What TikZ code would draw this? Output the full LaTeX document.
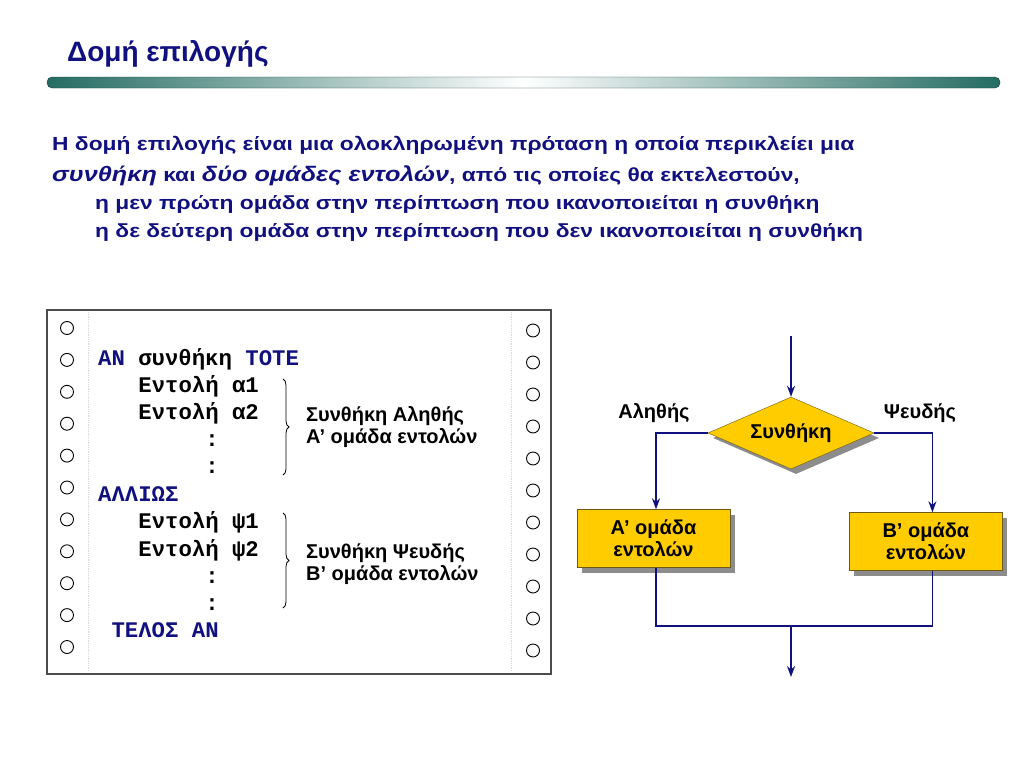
\documentclass[tikz,border=0pt]{standalone}
\usepackage{fontspec}
\setmainfont{Liberation Sans}
\setmonofont{Liberation Mono}
\newfontfamily\widesans[FakeStretch=1.2]{Liberation Sans}
\usetikzlibrary{positioning, arrows.meta, shapes.geometric, decorations.pathreplacing, shadows}

\definecolor{navy}{RGB}{16,16,128}
\definecolor{barteal}{RGB}{36,108,98}
\definecolor{gold}{RGB}{255,204,0}
\definecolor{goldline}{RGB}{110,90,20}

\begin{document}
\begin{tikzpicture}[
		x=1pt, y=-1pt,
		>={Stealth[length=11pt, width=8pt]},
		% Styles for the texts
		heading/.style={anchor=base west, inner sep=0pt, text=navy, font=\bfseries\fontsize{28}{32}\selectfont},
		bodytext/.style={anchor=base west, inner sep=0pt, text=navy, font=\widesans\bfseries\fontsize{19}{22}\selectfont},
		codeline/.style={anchor=base west, inner sep=0pt, font=\ttfamily\bfseries\fontsize{22.3}{26}\selectfont},
		bracelabel/.style={anchor=west, inner sep=0pt, align=left, font=\bfseries\fontsize{20}{22.5}\selectfont},
		% Styles for the listing frame
		panel/.style={draw=black!70, line width=1.2pt},
		margin/.style={draw=black!15, densely dotted, line width=0.8pt},
		hole/.style={draw=black, line width=0.9pt},
		groupbrace/.style={decorate, decoration={brace, amplitude=6pt}, line width=0.8pt},
		% Styles for the flowchart
		decision/.style={
			diamond, aspect=2.3, draw=goldline, fill=gold, inner sep=0pt,
			minimum width=166pt, minimum height=72pt, font=\bfseries\fontsize{20}{22}\selectfont,
			drop shadow={shadow xshift=5pt, shadow yshift=-5pt, fill=black!45, opacity=1}
		},
		process/.style={
			rectangle, draw=goldline, fill=gold, align=center,
			minimum width=153pt, minimum height=58pt, font=\bfseries\fontsize{20}{22}\selectfont,
			drop shadow={shadow xshift=5pt, shadow yshift=-5pt, fill=black!45, opacity=1}
		},
		flowlabel/.style={inner sep=0pt, font=\bfseries\fontsize{20}{22}\selectfont},
		flow/.style={draw=navy, line width=1.5pt}
		]
		
		% Keyword colour in the listing, larger italics in the intro
		\newcommand{\keyw}[1]{\textcolor{navy}{#1}}
		\newcommand{\emphbig}[1]{{\widesans\bfseries\itshape\fontsize{21}{24}\selectfont #1}}
		
		\fill[white] (0,0) rectangle (1024,768);
		\useasboundingbox (0,0) rectangle (1024,768);
		
		% ==========================================
		% 1. TITLE
		% ==========================================
		\node[heading] (title) at (67,62) {Δομή επιλογής};
		\shade[left color=barteal, right color=barteal, middle color=white,
		rounded corners=5pt, draw=barteal!60!black] (47,77) rectangle (1000,88);
		
		% ==========================================
		% 2. INTRODUCTION
		% ==========================================
		\node[bodytext] (intro1) at (52,150)
		{Η δομή επιλογής είναι μια ολοκληρωμένη πρόταση η οποία περικλείει μια};
		\node[bodytext] (intro2) at (52,181)
		{\emphbig{συνθήκη} και \emphbig{δύο ομάδες εντολών}, από τις οποίες θα εκτελεστούν,};
		\node[bodytext] (intro3) at (95,209)
		{η μεν πρώτη ομάδα στην περίπτωση που ικανοποιείται η συνθήκη};
		\node[bodytext] (intro4) at (95,237)
		{η δε δεύτερη ομάδα στην περίπτωση που δεν ικανοποιείται η συνθήκη};
		
		% ==========================================
		% 3. THE LEFT: Listing
		% ==========================================
		\draw[panel] (47,310) rectangle (551,674);
		\draw[margin] (88,312) -- (88,672);
		\draw[margin] (511,312) -- (511,672);
		\foreach \i in {0,...,10} {
			\draw[hole] (67,{328+31.9*\i}) circle (6.5pt);
			\draw[hole] (533,{330.5+32*\i}) circle (6.5pt);
		}
		
		\node[codeline] (ifline) at (98,365) {\keyw{ΑΝ} συνθήκη \keyw{ΤΟΤΕ}};
		\node[codeline] (cmdA1) at (138.2,392) {Εντολή α1};
		\node[codeline] (cmdA2) at (138.2,419) {Εντολή α2};
		\node[codeline] (dotsA1) at (205.2,446) {:};
		\node[codeline] (dotsA2) at (205.2,473) {:};
		\node[codeline] (elseline) at (98,501) {\keyw{ΑΛΛΙΩΣ}};
		\node[codeline] (cmdB1) at (138.2,528) {Εντολή ψ1};
		\node[codeline] (cmdB2) at (138.2,556) {Εντολή ψ2};
		\node[codeline] (dotsB1) at (205.2,583) {:};
		\node[codeline] (dotsB2) at (205.2,610) {:};
		\node[codeline] (endline) at (111.4,637) {\keyw{ΤΕΛΟΣ ΑΝ}};
		
		% Braces and what they group
		\draw[groupbrace] (283,379) -- (283,475);
		\node[bracelabel] (trueinfo) at (306,427) {Συνθήκη Αληθής\\Α’ ομάδα εντολών};
		\draw[groupbrace] (283,513) -- (283,608);
		\node[bracelabel] (falseinfo) at (306,564) {Συνθήκη Ψευδής\\Β’ ομάδα εντολών};
		
		% ==========================================
		% 4. THE RIGHT: Flowchart
		% ==========================================
		\node[decision] (cond) at (791,433) {Συνθήκη};
		\node[process] (groupA) at (653.5,538.5) {Α’ ομάδα\\εντολών};
		\node[process, right=119pt of groupA, yshift=-3pt] (groupB) {Β’ ομάδα\\εντολών};
		
		\node[flowlabel] (yes) at (654,413) {Αληθής};
		\node[flowlabel] (no) at (920,413) {Ψευδής};
		
		\coordinate (entry) at (791,336);
		\coordinate (merge) at (791,626);
		\coordinate (exit) at (791,677);
		
		\draw[flow, ->] (entry) -- (cond.north);
		\draw[flow, ->] (cond.west) -| ([xshift=2.5pt]groupA.north);
		\draw[flow, ->] (cond.east) -| ([xshift=6.5pt]groupB.north);
		\draw[flow] ([xshift=2.5pt]groupA.south) |- (merge) -| ([xshift=6.5pt]groupB.south);
		\draw[flow, ->] (merge) -- (exit);
		
	\end{tikzpicture}
\end{document}
